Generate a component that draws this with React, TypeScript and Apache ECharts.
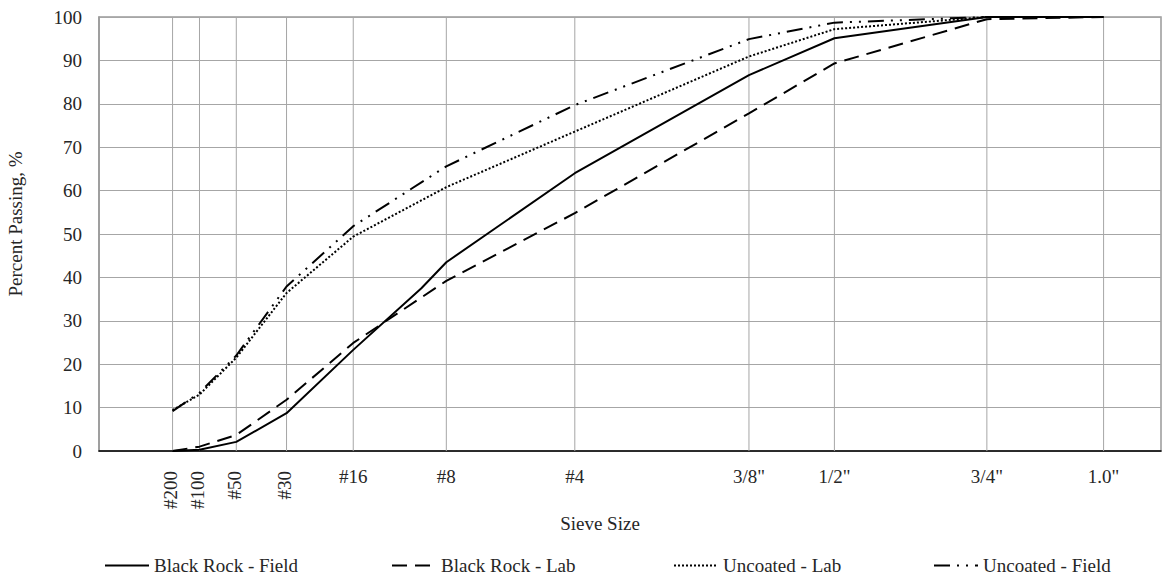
import React, { useEffect, useRef } from "react";
import * as echarts from "echarts";

// Sieve sizes shown on the axis (mm) and their labels
const SIEVE_LABELS = ['#200', '#100', '#50', '#30', '#16', '#8', '#4', '3/8"', '1/2"', '3/4"', '1.0"'];
const SIEVE_MM = [0.075, 0.15, 0.3, 0.6, 1.18, 2.36, 4.75, 9.5, 12.5, 19, 25];
const LABEL_VERTICAL = [true, true, true, true, false, false, false, false, false, false, false];

// Sieve sizes used by the data (mm) — includes #10 (2.0 mm)
const DATA_MM = [0.075, 0.15, 0.3, 0.6, 1.18, 2.0, 2.36, 4.75, 9.5, 12.5, 19, 25];

const BLACK_ROCK_FIELD = [0, 0.3, 2.1, 8.7, 23.3, 37.5, 43.5, 64.0, 86.6, 95.1, 100, 100];
const BLACK_ROCK_LAB = [0, 1.0, 3.7, 11.8, 24.9, null, 39.2, 54.8, 77.8, 89.3, 99.5, 100];
const UNCOATED_LAB = [9.4, 13.0, 21.5, 36.4, 49.4, null, 60.8, 73.6, 90.9, 97.2, 100, 100];
const UNCOATED_FIELD = [9.2, 13.4, 22.0, 37.9, 51.8, null, 65.6, 79.7, 94.9, 98.7, 100, 100];

const Y_MIN = 0;
const Y_MAX = 100;
const Y_INTERVAL = 10;
const X_MIN = 0;
const X_MAX = 4.5;
const POWER = 0.45;

const FONT = "Times New Roman, Liberation Serif, serif";
const FS = 19;
const TEXT_COLOR = "#262626";
const GRID_COLOR = "#a6a6a6";

const pw = (mm: number) => Math.pow(mm, POWER);

const toPairs = (vals: (number | null)[]) =>
  DATA_MM.map((mm, i) => [pw(mm), vals[i] === null ? "-" : vals[i]]);

export default function App() {
  const ref = useRef<HTMLDivElement>(null);

  useEffect(() => {
    if (!ref.current) return;
    const chart = echarts.init(ref.current, undefined, { renderer: "svg" });

    const lineSeries = (name: string, vals: (number | null)[], type: any) => ({
      name,
      type: "line",
      data: toPairs(vals),
      symbol: "none",
      showSymbol: false,
      connectNulls: true,
      z: 5,
      lineStyle: { color: "#000", width: 2, type },
      itemStyle: { color: "#000" },
    });

    const legendAt = (name: string, left: number) => ({
      data: [name],
      left,
      top: 556,
      itemWidth: 44,
      itemHeight: 14,
      itemGap: 0,
      padding: 0,
      itemStyle: { opacity: 0 },
      textStyle: { fontFamily: FONT, fontSize: FS, color: TEXT_COLOR },
      selectedMode: false,
    });

    chart.setOption({
      animation: false,
      backgroundColor: "#fff",
      textStyle: { fontFamily: FONT },
      grid: {
        left: 99,
        right: 1,
        top: 17,
        bottom: 129,
        show: true,
        borderColor: "#999",
        borderWidth: 1.5,
        containLabel: false,
      },
      xAxis: {
        type: "value",
        min: X_MIN,
        max: X_MAX,
        axisLabel: { show: false },
        axisTick: { show: false },
        splitLine: { show: false },
        axisLine: { show: true, lineStyle: { color: "#000", width: 1.5 } },
      },
      yAxis: {
        type: "value",
        min: Y_MIN,
        max: Y_MAX,
        interval: Y_INTERVAL,
        axisLine: { show: true, lineStyle: { color: "#999", width: 1.5 } },
        axisTick: { show: false },
        axisLabel: { fontFamily: FONT, fontSize: FS, color: TEXT_COLOR, margin: 17 },
        splitLine: { show: true, lineStyle: { color: GRID_COLOR, width: 1 } },
      },
      legend: [
        legendAt("Black Rock - Field", 104),
        legendAt("Black Rock - Lab", 391),
        legendAt("Uncoated - Lab", 673),
        legendAt("Uncoated - Field", 933),
      ],
      graphic: [
        {
          type: "text",
          x: 15,
          y: 224,
          rotation: Math.PI / 2,
          style: {
            text: "Percent Passing, %",
            fontFamily: FONT,
            fontSize: FS,
            fill: TEXT_COLOR,
            align: "center",
            verticalAlign: "middle",
          },
        },
        {
          type: "text",
          x: 600,
          y: 523,
          style: {
            text: "Sieve Size",
            fontFamily: FONT,
            fontSize: FS,
            fill: TEXT_COLOR,
            align: "center",
            verticalAlign: "middle",
          },
        },
      ],
      series: [
        {
          type: "custom",
          name: "sieves",
          z: 1,
          silent: true,
          data: SIEVE_MM.map((mm, i) => [pw(mm), i]),
          renderItem: (params: any, api: any) => {
            const v = api.value(0);
            const idx = api.value(1);
            const bot = api.coord([v, Y_MIN]);
            const top = api.coord([v, Y_MAX]);
            const vertical = LABEL_VERTICAL[idx];
            const label = vertical
              ? {
                  type: "text",
                  x: bot[0] - 2,
                  y: bot[1] + 20,
                  rotation: Math.PI / 2,
                  style: {
                    text: SIEVE_LABELS[idx],
                    fontFamily: FONT,
                    fontSize: FS,
                    fill: TEXT_COLOR,
                    align: "right",
                    verticalAlign: "middle",
                  },
                }
              : {
                  type: "text",
                  x: bot[0],
                  y: bot[1] + 25,
                  style: {
                    text: SIEVE_LABELS[idx],
                    fontFamily: FONT,
                    fontSize: FS,
                    fill: TEXT_COLOR,
                    align: "center",
                    verticalAlign: "middle",
                  },
                };
            return {
              type: "group",
              children: [
                {
                  type: "line",
                  shape: { x1: bot[0], y1: bot[1], x2: top[0], y2: top[1] },
                  style: { stroke: GRID_COLOR, lineWidth: 1 },
                },
                label,
              ],
            };
          },
        },
        lineSeries("Black Rock - Field", BLACK_ROCK_FIELD, "solid"),
        lineSeries("Black Rock - Lab", BLACK_ROCK_LAB, [15, 8]),
        lineSeries("Uncoated - Lab", UNCOATED_LAB, [2, 2]),
        lineSeries("Uncoated - Field", UNCOATED_FIELD, [16, 7, 2, 7, 2, 7]),
      ],
    });

    return () => chart.dispose();
  }, []);

  return (
    <div
      ref={ref}
      style={{ position: "fixed", left: 0, top: 0, width: 1162, height: 580, background: "#fff" }}
    />
  );
}
